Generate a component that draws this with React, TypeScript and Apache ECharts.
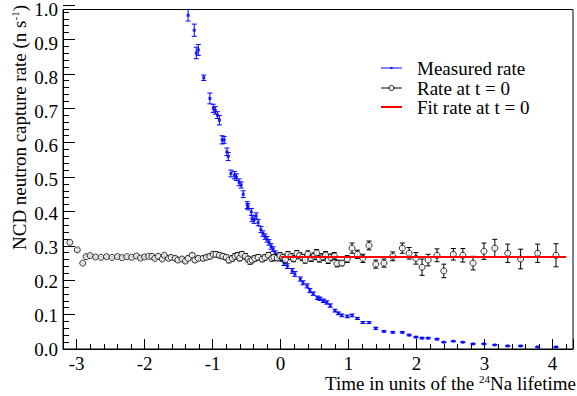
import React, { useEffect, useRef } from "react";
import * as echarts from "echarts";

// Measured rate (blue)
const blueT = [-1.36, -1.27, -1.24, -1.21, -1.13, -1.04, -0.99, -0.96, -0.93, -0.9, -0.86, -0.83, -0.79, -0.77, -0.73, -0.68, -0.65, -0.61, -0.58, -0.55, -0.49, -0.48, -0.43, -0.42, -0.39, -0.36, -0.33, -0.29, -0.26, -0.23, -0.2, -0.17, -0.14, -0.11, -0.08, -0.04, 0.02, 0.05, 0.1, 0.17, 0.21, 0.29, 0.33, 0.39, 0.43, 0.48, 0.54, 0.58, 0.63, 0.68, 0.73, 0.8, 0.85, 0.9, 0.98, 1.05, 1.13, 1.21, 1.3, 1.4, 1.52, 1.65, 1.79, 1.89, 1.99, 2.08, 2.17, 2.3, 2.4, 2.54, 2.68, 2.83, 2.99, 3.15, 3.34, 3.53, 3.78, 4.05];
const blueRate = [0.983, 0.939, 0.872, 0.881, 0.799, 0.738, 0.709, 0.703, 0.689, 0.674, 0.616, 0.616, 0.581, 0.567, 0.517, 0.512, 0.506, 0.491, 0.483, 0.456, 0.424, 0.419, 0.404, 0.384, 0.381, 0.392, 0.372, 0.352, 0.34, 0.331, 0.323, 0.314, 0.302, 0.294, 0.282, 0.273, 0.265, 0.253, 0.244, 0.23, 0.221, 0.206, 0.195, 0.186, 0.172, 0.163, 0.151, 0.148, 0.142, 0.137, 0.128, 0.113, 0.105, 0.099, 0.096, 0.099, 0.09, 0.078, 0.078, 0.061, 0.052, 0.049, 0.049, 0.041, 0.035, 0.032, 0.032, 0.029, 0.02, 0.023, 0.02, 0.015, 0.015, 0.012, 0.009, 0.009, 0.006, 0.006];
const blueErr = [0.017, 0.018, 0.017, 0.016, 0.008, 0.016, 0.012, 0.011, 0.01, 0.014, 0.012, 0.01, 0.011, 0.012, 0.01, 0.011, 0.01, 0.01, 0.009, 0.01, 0.01, 0.009, 0.01, 0.009, 0.011, 0.009, 0.009, 0.009, 0.008, 0.008, 0.008, 0.008, 0.008, 0.007, 0.007, 0.007, 0.007, 0.007, 0.007, 0.007, 0.007, 0.006, 0.006, 0.006, 0.006, 0.005, 0.005, 0.005, 0.005, 0.005, 0.005, 0.004, 0.004, 0.004, 0.004, 0.004, 0.003, 0.003, 0.003, 0.003, 0.002, 0.002, 0.002, 0.002, 0.002, 0.002, 0.002, 0.002, 0.001, 0.001, 0.001, 0.001, 0.001, 0.001, 0.001, 0.001, 0.001, 0.001];

// Rate at t = 0 (black)
const blackT = [-3.1, -2.99, -2.91, -2.86, -2.8, -2.72, -2.64, -2.56, -2.48, -2.4, -2.33, -2.26, -2.19, -2.12, -2.06, -2.0, -1.94, -1.89, -1.85, -1.8, -1.74, -1.71, -1.65, -1.61, -1.55, -1.51, -1.45, -1.4, -1.36, -1.3, -1.26, -1.21, -1.14, -1.09, -1.04, -0.99, -0.95, -0.9, -0.85, -0.8, -0.76, -0.71, -0.67, -0.63, -0.6, -0.57, -0.52, -0.48, -0.45, -0.42, -0.38, -0.33, -0.27, -0.23, -0.18, -0.13, -0.1, -0.05, -0.01, 0.03, 0.07, 0.11, 0.15, 0.19, 0.24, 0.28, 0.32, 0.36, 0.4, 0.45, 0.49, 0.53, 0.57, 0.62, 0.66, 0.7, 0.74, 0.79, 0.83, 0.9, 0.98, 1.05, 1.13, 1.21, 1.3, 1.4, 1.52, 1.65, 1.79, 1.89, 1.99, 2.08, 2.17, 2.3, 2.4, 2.54, 2.68, 2.83, 2.99, 3.15, 3.34, 3.53, 3.78, 4.05];
const blackRate = [0.314, 0.292, 0.253, 0.272, 0.275, 0.271, 0.27, 0.272, 0.27, 0.272, 0.269, 0.272, 0.27, 0.274, 0.268, 0.271, 0.273, 0.273, 0.267, 0.273, 0.265, 0.276, 0.267, 0.27, 0.267, 0.262, 0.265, 0.259, 0.267, 0.276, 0.262, 0.267, 0.267, 0.27, 0.273, 0.279, 0.279, 0.276, 0.273, 0.27, 0.262, 0.267, 0.273, 0.276, 0.268, 0.279, 0.273, 0.265, 0.258, 0.262, 0.267, 0.27, 0.265, 0.27, 0.276, 0.267, 0.27, 0.268, 0.275, 0.27, 0.263, 0.278, 0.272, 0.266, 0.281, 0.275, 0.27, 0.262, 0.279, 0.268, 0.273, 0.283, 0.266, 0.271, 0.277, 0.262, 0.27, 0.274, 0.252, 0.253, 0.265, 0.297, 0.279, 0.267, 0.305, 0.25, 0.253, 0.273, 0.297, 0.282, 0.267, 0.241, 0.262, 0.276, 0.23, 0.279, 0.276, 0.253, 0.288, 0.297, 0.282, 0.265, 0.282, 0.276];
const blackErr = [0.004, 0.004, 0.003, 0.003, 0.003, 0.003, 0.003, 0.003, 0.003, 0.003, 0.003, 0.003, 0.003, 0.003, 0.003, 0.003, 0.003, 0.004, 0.004, 0.004, 0.004, 0.004, 0.004, 0.005, 0.005, 0.005, 0.005, 0.005, 0.006, 0.006, 0.006, 0.006, 0.006, 0.006, 0.007, 0.007, 0.007, 0.007, 0.007, 0.007, 0.008, 0.008, 0.008, 0.008, 0.008, 0.008, 0.008, 0.008, 0.008, 0.008, 0.008, 0.008, 0.008, 0.008, 0.008, 0.008, 0.008, 0.008, 0.009, 0.009, 0.009, 0.009, 0.009, 0.009, 0.009, 0.009, 0.009, 0.009, 0.01, 0.01, 0.01, 0.01, 0.01, 0.01, 0.01, 0.01, 0.01, 0.01, 0.01, 0.008, 0.01, 0.015, 0.012, 0.012, 0.013, 0.012, 0.012, 0.013, 0.015, 0.017, 0.017, 0.024, 0.017, 0.019, 0.02, 0.017, 0.02, 0.02, 0.024, 0.026, 0.027, 0.029, 0.027, 0.034];

// Fit rate at t = 0 (red)
const fitT = [0, 4.2];
const fitRate = [0.271, 0.271];

const legendLabels = ["Measured rate", "Rate at t = 0", "Fit rate at t = 0"];

const FONT = "Liberation Serif";
const FS = 19;
const X_MIN = -3.2;
const X_MAX = 4.3;

function errorBars(t: number[], r: number[], e: number[], color: string, cap: number, z: number) {
  return {
    type: "custom",
    xAxisIndex: 0,
    yAxisIndex: 0,
    clip: true,
    z,
    silent: true,
    data: t.map((x, i) => [x, r[i], e[i]]),
    encode: { x: 0, y: 1 },
    renderItem: (params: any, api: any) => {
      const x = api.value(0);
      const y = api.value(1);
      const err = api.value(2);
      const hi = api.coord([x, y + err]);
      const lo = api.coord([x, y - err]);
      return {
        type: "group",
        children: [
          { type: "line", shape: { x1: hi[0], y1: hi[1], x2: lo[0], y2: lo[1] }, style: { stroke: color, lineWidth: 1 } },
          { type: "line", shape: { x1: hi[0] - cap, y1: hi[1], x2: hi[0] + cap, y2: hi[1] }, style: { stroke: color, lineWidth: 1 } },
          { type: "line", shape: { x1: lo[0] - cap, y1: lo[1], x2: lo[0] + cap, y2: lo[1] }, style: { stroke: color, lineWidth: 1 } },
        ],
      };
    },
  };
}

// tick marks drawn as split lines of thin helper grids hugging the axes
const hidden = { axisLine: { show: false }, axisTick: { show: false }, axisLabel: { show: false } };
const tickLine = { show: true, lineStyle: { color: "#000", width: 1, type: "solid" } };

export default function App() {
  const ref = useRef<HTMLDivElement>(null);
  useEffect(() => {
    if (!ref.current) return;
    const chart = echarts.init(ref.current, null, { renderer: "svg" });
    const legendX = 381;
    const legendY = [68, 88, 107];
    chart.setOption({
      animation: false,
      grid: [
        { left: 63, right: 4, top: 5, bottom: 47, show: true, borderColor: "#000", backgroundColor: "transparent" },
        { left: 63, width: 12, top: 5, bottom: 47, show: false },
        { left: 63, width: 6, top: 5, bottom: 47, show: false },
        { left: 63, right: 4, top: 339, height: 10, show: false },
        { left: 63, right: 4, top: 344, height: 5, show: false },
      ],
      xAxis: [
        {
          type: "value",
          gridIndex: 0,
          min: X_MIN,
          max: X_MAX,
          splitNumber: 7,
          axisLine: { show: true, onZero: false, lineStyle: { color: "#000" } },
          axisTick: { show: false },
          axisLabel: {
            color: "#000",
            fontFamily: FONT,
            fontSize: FS,
            margin: 5,
            formatter: (v: number) => (Math.abs(v - Math.round(v)) < 1e-6 ? String(Math.round(v)) : ""),
          },
          splitLine: { show: false },
        },
        { type: "value", gridIndex: 1, min: 0, max: 1, show: false },
        { type: "value", gridIndex: 2, min: 0, max: 1, show: false },
        { type: "value", gridIndex: 3, min: X_MIN, max: X_MAX, splitNumber: 7, ...hidden, splitLine: tickLine },
        { type: "value", gridIndex: 4, min: X_MIN, max: X_MAX, interval: 0.2, ...hidden, splitLine: tickLine },
      ],
      yAxis: [
        {
          type: "value",
          gridIndex: 0,
          min: 0,
          max: 1,
          interval: 0.1,
          axisLine: { show: true, onZero: false, lineStyle: { color: "#000" } },
          axisTick: { show: false },
          axisLabel: { color: "#000", fontFamily: FONT, fontSize: FS, margin: 5, formatter: (v: number) => v.toFixed(1) },
          splitLine: { show: false },
        },
        { type: "value", gridIndex: 1, min: 0, max: 1, interval: 0.1, ...hidden, splitLine: tickLine },
        { type: "value", gridIndex: 2, min: 0, max: 1, interval: 0.02, ...hidden, splitLine: tickLine },
        { type: "value", gridIndex: 3, min: 0, max: 1, show: false },
        { type: "value", gridIndex: 4, min: 0, max: 1, show: false },
      ],
      series: [
        errorBars(blueT, blueRate, blueErr, "#0000ff", 2.5, 2),
        {
          type: "scatter",
          name: legendLabels[0],
          xAxisIndex: 0,
          yAxisIndex: 0,
          data: blueT.map((x, i) => [x, blueRate[i]]),
          symbol: "rect",
          symbolSize: 3,
          itemStyle: { color: "#0000ff" },
          z: 3,
          silent: true,
        },
        errorBars(blackT, blackRate, blackErr, "#000000", 2.5, 4),
        {
          type: "scatter",
          name: legendLabels[1],
          xAxisIndex: 0,
          yAxisIndex: 0,
          data: blackT.map((x, i) => [x, blackRate[i]]),
          symbol: "circle",
          symbolSize: 6,
          itemStyle: { color: "#ffffff", borderColor: "#000000", borderWidth: 1 },
          z: 5,
          silent: true,
        },
        {
          type: "line",
          name: legendLabels[2],
          xAxisIndex: 0,
          yAxisIndex: 0,
          data: fitT.map((x, i) => [x, fitRate[i]]),
          symbol: "none",
          lineStyle: { color: "#ff0000", width: 2 },
          z: 6,
          silent: true,
        },
      ],
      graphic: [
        {
          type: "text",
          x: 19,
          y: 5,
          rotation: Math.PI / 2,
          style: {
            text: "NCD neutron capture rate (n s{sup|-1})",
            fontFamily: FONT,
            fontSize: FS,
            fill: "#000",
            align: "right",
            verticalAlign: "middle",
            rich: { sup: { fontFamily: FONT, fontSize: 11, verticalAlign: "top", fill: "#000" } },
          },
        },
        {
          type: "text",
          x: 576,
          y: 383,
          style: {
            text: "Time in units of the {sup|24}Na lifetime",
            fontFamily: FONT,
            fontSize: FS,
            fill: "#000",
            align: "right",
            verticalAlign: "middle",
            rich: { sup: { fontFamily: FONT, fontSize: 11, verticalAlign: "top", fill: "#000" } },
          },
        },
        { type: "line", shape: { x1: legendX, y1: legendY[0], x2: legendX + 21, y2: legendY[0] }, style: { stroke: "#0000ff", lineWidth: 1 } },
        { type: "rect", shape: { x: legendX + 9.5, y: legendY[0] - 1, width: 2, height: 2 }, style: { fill: "#0000ff" } },
        { type: "line", shape: { x1: legendX, y1: legendY[1], x2: legendX + 21, y2: legendY[1] }, style: { stroke: "#000", lineWidth: 1 } },
        { type: "circle", shape: { cx: legendX + 10.5, cy: legendY[1], r: 2.5 }, style: { fill: "#fff", stroke: "#000", lineWidth: 1 } },
        { type: "line", shape: { x1: legendX, y1: legendY[2], x2: legendX + 21, y2: legendY[2] }, style: { stroke: "#ff0000", lineWidth: 2 } },
        ...legendLabels.map((s, i) => ({
          type: "text",
          x: 417,
          y: legendY[i],
          style: { text: s, fontFamily: FONT, fontSize: FS, fill: "#000", align: "left", verticalAlign: "middle" },
        })),
      ],
    });
    return () => chart.dispose();
  }, []);
  return <div ref={ref} style={{ position: "fixed", left: 0, top: 0, width: 577, height: 396, background: "#fff" }} />;
}
